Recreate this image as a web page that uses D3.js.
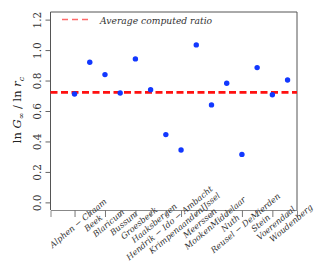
<!DOCTYPE html>
<html><head><meta charset="utf-8">
<script src="https://cdn.jsdelivr.net/npm/d3@7"></script>
<style>body{margin:0;background:#fff}svg{display:block}</style></head>
<body>
<svg id="c" width="331" height="262"></svg>
<script>
const categories = ["Alphen − Chaam","Beek","Blaricum","Bussum","Groesbeek","Haaksbergen","Hendrik − Ido − Ambacht","KrimpenaandenIJssel","Meerssen","MookenMiddelaar","Nuth","Reusel − DeMierden","Stein","Voerendaal","Woudenberg"];
const ratios = [0.712,0.92,0.839,0.718,0.942,0.74,0.445,0.344,1.034,0.64,0.782,0.315,0.885,0.707,0.804];
const averageRatio = 0.722;
const yTicks = [0.0,0.2,0.4,0.6,0.8,1.0,1.2];
const legendLabel = "Average computed ratio";

const SERIF = "'DejaVu Serif', serif";
const L = 50.5, R = 297, T = 12, B = 210;
const svg = d3.select("#c");
const x = d3.scaleLinear().domain([-1.58, 14.62]).range([L, R]);
const y = d3.scaleLinear().domain([-0.05, 1.25]).range([B, T]);

// y axis
const ya = svg.append("g").attr("transform", `translate(${L},0)`)
  .call(d3.axisLeft(y).tickValues(yTicks).tickSize(5).tickFormat(d3.format(".1f")));
ya.select(".domain").remove();
ya.selectAll(".tick line").attr("stroke", "#666");
ya.selectAll(".tick text")
  .attr("x", null).attr("dy", null)
  .attr("transform", "translate(-10,0) rotate(-90)")
  .attr("text-anchor", "middle")
  .attr("fill", "#333")
  .attr("font-family", SERIF)
  .attr("font-size", 10.5);

// x axis
const xa = svg.append("g").attr("transform", `translate(0,${B})`)
  .call(d3.axisBottom(x).tickValues(d3.range(categories.length)).tickSize(7).tickFormat(i => categories[i]));
xa.attr("font-family", SERIF);
xa.select(".domain").attr("stroke", "#888");
xa.selectAll(".tick line").attr("stroke", "#777");
xa.selectAll(".tick text")
  .attr("y", null).attr("dy", null)
  .attr("transform", "translate(3,13) rotate(-40)")
  .attr("text-anchor", "middle")
  .attr("dominant-baseline", "central")
  .attr("fill", "#333")
  .attr("font-family", SERIF)
  .attr("font-style", "italic")
  .attr("font-size", 8.3);

// frame (left, top, right)
svg.append("path")
  .attr("d", `M${L},${B}V${T}H${R}V${B}`)
  .attr("fill", "none").attr("stroke", "#555").attr("stroke-width", 1);

// average line
svg.append("line")
  .attr("x1", L).attr("x2", R)
  .attr("y1", y(averageRatio)).attr("y2", y(averageRatio))
  .attr("stroke", "#ff1010").attr("stroke-width", 2.6)
  .attr("stroke-dasharray", "7,3.5");

// points
svg.append("g").selectAll("circle").data(ratios).join("circle")
  .attr("cx", (d, i) => x(i)).attr("cy", d => y(d))
  .attr("r", 2.7).attr("fill", "#1238ff");

// legend
svg.append("line").attr("x1", 62).attr("x2", 88).attr("y1", 19.5).attr("y2", 19.5)
  .attr("stroke", "#ff6a6a").attr("stroke-width", 1.4).attr("stroke-dasharray", "6,4");
svg.append("text").attr("x", 100).attr("y", 23.5)
  .attr("fill", "#333")
  .attr("font-family", SERIF)
  .attr("font-style", "italic").attr("font-size", 9.2)
  .text(legendLabel);

// y label
const yl = svg.append("text")
  .attr("transform", "translate(21,110) rotate(-90)")
  .attr("text-anchor", "middle")
  .attr("fill", "#222")
  .attr("font-family", SERIF)
  .attr("font-size", 11.5);
yl.append("tspan").text("ln ");
yl.append("tspan").attr("font-style", "italic").text("G");
yl.append("tspan").attr("dy", 3).attr("font-size", 8).text("∞");
yl.append("tspan").attr("dy", -3).text(" / ln ");
yl.append("tspan").attr("font-style", "italic").text("r");
yl.append("tspan").attr("dy", 3).attr("font-size", 8).attr("font-style", "italic").text("c");
</script>
</body></html>
